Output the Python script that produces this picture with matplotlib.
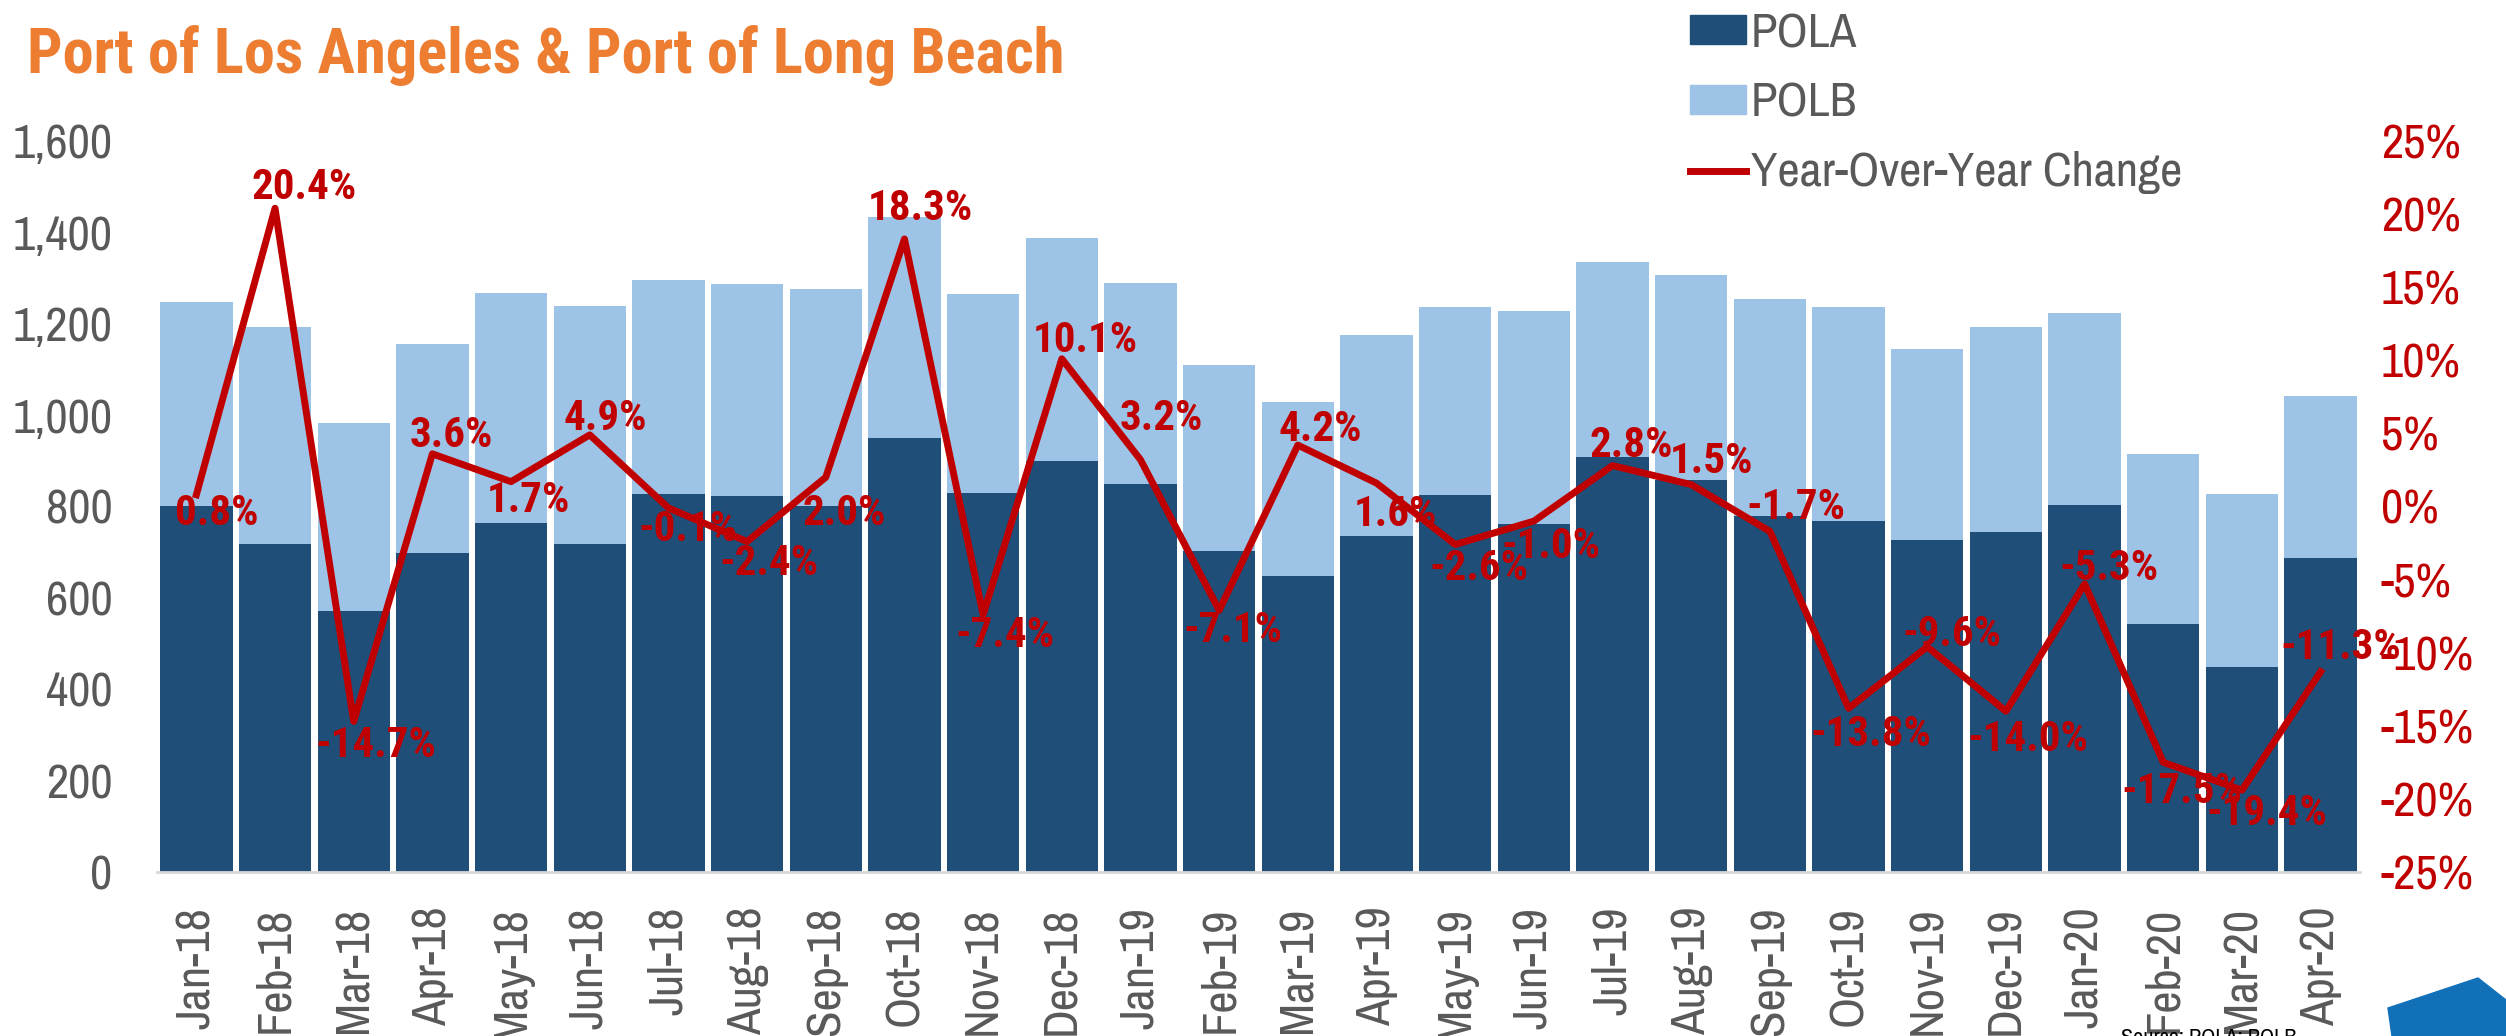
import numpy as np
import matplotlib
matplotlib.use("Agg")
import matplotlib.pyplot as plt
from matplotlib import font_manager
from matplotlib.patches import Polygon, Patch
from matplotlib.lines import Line2D
from matplotlib.ticker import FuncFormatter

# ---- data ----
months = ["Jan-18", "Feb-18", "Mar-18", "Apr-18", "May-18", "Jun-18", "Jul-18",
          "Aug-18", "Sep-18", "Oct-18", "Nov-18", "Dec-18", "Jan-19", "Feb-19",
          "Mar-19", "Apr-19", "May-19", "Jun-19", "Jul-19", "Aug-19", "Sep-19",
          "Oct-19", "Nov-19", "Dec-19", "Jan-20", "Feb-20", "Mar-20", "Apr-20"]
pola = [802, 719, 571, 699, 763, 717, 828, 822, 802, 950, 829, 900, 850, 703,
        648, 735, 826, 762, 909, 858, 779, 769, 727, 745, 804, 543, 448, 687]
polb = [446, 474, 412, 456, 505, 521, 468, 464, 474, 484, 436, 488, 440, 407,
        380, 441, 411, 466, 426, 449, 476, 467, 417, 448, 419, 373, 379, 355]
yoy = [0.8, 20.4, -14.7, 3.6, 1.7, 4.9, -0.1, -2.4, 2.0, 18.3, -7.4, 10.1, 3.2, -7.1,
       4.2, 1.6, -2.6, -1.0, 2.8, 1.5, -1.7, -13.8, -9.6, -14.0, -5.3, -17.5, -19.4, -11.3]

# label offsets in pixels (dx, dy) relative to each line point
label_offsets = [(20, -19), (29, 21), (22, -24), (19, 18), (17, -19), (16, 16), (19, -22),
                 (22, -22), (18, -36), (16, 30), (22, -21), (23, 18), (21, 41), (14, -20),
                 (22, 16), (19, -31), (24, -24), (17, -25), (19, 20), (20, 23), (26, 24),
                 (22, -26), (25, 12), (22, -28), (24, 15), (19, -29), (25, -23), (20, 24)]

C_POLA = "#1F4E79"
C_POLB = "#9DC3E6"
C_RED = "#C00000"
C_GRAY = "#595959"
C_TITLE = "#ED7D31"


def _wt(w):
    if isinstance(w, str):
        return 700 if w in ("bold", "heavy", "black", "extra bold", "semibold", "demibold") else 400
    return int(w)


# narrow sans close to the condensed Arial look of the original
entries = font_manager.fontManager.ttflist
names = {f.name for f in entries}
bold_names = {f.name for f in entries if _wt(f.weight) >= 700}
cands = ["Arial Narrow", "Liberation Sans Narrow", "Archivo Narrow", "Roboto Condensed",
         "PT Sans Narrow", "Fira Sans Condensed", "IBM Plex Sans Condensed",
         "Barlow Semi Condensed"]
FONT = next((c for c in cands if c in names), "Liberation Sans")
BOLD_FONT = next((c for c in cands if c in bold_names), "Liberation Sans")
plt.rcParams["font.family"] = [FONT, "DejaVu Sans"]

W, H = 2506, 1036
fig = plt.figure(figsize=(W / 100, H / 100), dpi=100)
ax = fig.add_axes([157 / W, 164 / H, (2360 - 157) / W, 731 / H])

x = np.arange(len(months))
ax.bar(x, pola, width=0.92, color=C_POLA, zorder=2)
ax.bar(x, polb, width=0.92, bottom=pola, color=C_POLB, zorder=2)
ax.set_xlim(-0.5, len(months) - 0.5)
ax.set_ylim(0, 1600)
ax.set_yticks(range(0, 1601, 200))
ax.yaxis.set_major_formatter(FuncFormatter(lambda v, p: f"{int(v):,}"))
ax.set_xticks(x)
ax.set_xticklabels(months, rotation=90, va="top", ha="center")
ax.tick_params(axis="y", length=0, pad=32, labelsize=35, labelcolor=C_GRAY)
ax.tick_params(axis="x", length=0, pad=25, labelsize=35, labelcolor=C_GRAY)
for s in ["top", "right", "left"]:
    ax.spines[s].set_visible(False)
ax.spines["bottom"].set_color("#D9D9D9")
ax.spines["bottom"].set_linewidth(2)

ax2 = ax.twinx()
ax2.plot(x, yoy, color=C_RED, lw=5, zorder=3)
ax2.set_ylim(-25, 25)
ax2.set_yticks(range(-25, 26, 5))
ax2.yaxis.set_major_formatter(FuncFormatter(lambda v, p: f"{int(v)}%"))
ax2.tick_params(axis="y", length=0, pad=15, labelsize=35, labelcolor=C_RED)
for s in ax2.spines.values():
    s.set_visible(False)

for xi, v, (dx, dy) in zip(x, yoy, label_offsets):
    ax2.annotate(f"{v:.1f}%", (xi, v), xytext=(dx, dy), textcoords="offset pixels",
                 ha="center", va="center", fontsize=31, fontweight="bold", color=C_RED,
                 family=[BOLD_FONT, "DejaVu Sans"], zorder=4)

# title (the line above it is cut off in the reference)
fig.text(27 / W, 1 - 73 / H, "Port of Los Angeles & Port of Long Beach",
         fontsize=45, fontweight="bold", color=C_TITLE, ha="left", va="baseline",
         family=[BOLD_FONT, "DejaVu Sans"])

handles = [Patch(color=C_POLA), Patch(color=C_POLB), Line2D([], [], color=C_RED, lw=5)]
fig.legend(handles, ["POLA", "POLB", "Year-Over-Year Change"], loc="upper left",
           bbox_to_anchor=(1690 / W, 1 - 12 / H), frameon=False, fontsize=35,
           labelcolor=C_GRAY, handlelength=1.15, handleheight=0.55, handletextpad=0.1,
           labelspacing=0.55, borderpad=0, borderaxespad=0)

fig.text(2121 / W, 1 - 1028 / H, "Source: POLA; POLB", fontsize=16, color="black",
         ha="left", va="top")

# blue corner logo piece
fig.patches.append(Polygon([(2392 / W, 0), (2388 / W, 28 / H), (2478 / W, 58 / H),
                            (1, 36 / H), (1, 0)], closed=True, color="#1170B8",
                           transform=fig.transFigure, figure=fig))

fig.savefig("out.png", dpi=100)
